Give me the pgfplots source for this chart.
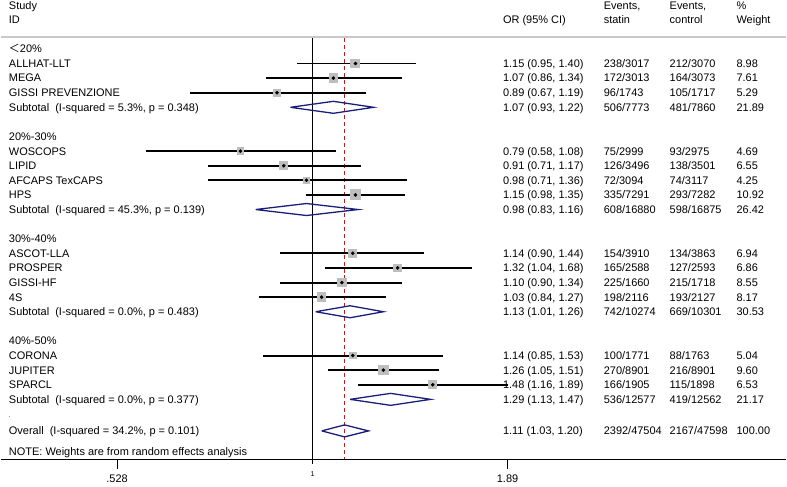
\documentclass[border=0pt]{standalone}
\usepackage{pgfplots}
\pgfplotsset{compat=1.18}
\usepackage{pgfplotstable}
\usepackage{fontspec}
\setmainfont{Liberation Sans}
\newfontfamily\cjk{Noto Sans CJK SC}
\definecolor{dnavy}{RGB}{26,30,120}
\definecolor{dred}{RGB}{178,34,34}
\definecolor{boxgray}{RGB}{190,190,190}
\definecolor{hdrgray}{RGB}{200,200,200}

% row  OR  lower  upper  weight
\pgfplotstableread{
r  est   lo    hi    w
1  1.15  0.95  1.40  8.98
2  1.07  0.86  1.34  7.61
3  0.89  0.67  1.19  5.29
7  0.79  0.58  1.08  4.69
8  0.91  0.71  1.17  6.55
9  0.98  0.71  1.36  4.25
10 1.15  0.98  1.35  10.92
14 1.14  0.90  1.44  6.94
15 1.32  1.04  1.68  6.86
16 1.10  0.90  1.34  8.55
17 1.03  0.84  1.27  8.17
21 1.14  0.85  1.53  5.04
22 1.26  1.05  1.51  9.60
23 1.48  1.16  1.89  6.53
}\studies

\newcommand{\trow}[6]{%
  \node[txt] at (8pt,{407.1pt-14.63pt*(#1)}) {#2};
  \node[txt] at (503pt,{407.1pt-14.63pt*(#1)}) {#3};
  \node[txt] at (604pt,{407.1pt-14.63pt*(#1)}) {#4};
  \node[txt] at (670pt,{407.1pt-14.63pt*(#1)}) {#5};
  \node[txt] at (737pt,{407.1pt-14.63pt*(#1)}) {#6};}
\newcommand{\trlab}[2]{\node[txt] at (8pt,{407.1pt-14.63pt*(#1)}) {#2};}

\begin{document}
\begin{tikzpicture}[txt/.style={anchor=base west, inner sep=0pt, font=\fontsize{11}{13}\selectfont}]
\begin{axis}[
  scale only axis, width=787pt, height=460pt,
  at={(0pt,0pt)}, anchor=south west,
  xmode=log, xmin=0.36111, xmax=4.6955,
  ymin=-28.093, ymax=3.349,
  axis y line=none, axis x line*=bottom,
  x axis line style={-, line width=0.9pt, black},
  xminorticks=false,
  xtick={0.528,1.89}, xticklabels={.528,1.89},
  extra x ticks={1}, extra x tick labels={1},
  extra x tick style={major tick length=4.5pt, xticklabel style={font=\fontsize{7}{8}\selectfont, yshift=-3pt}},
  xtick align=outside, major tick length=10pt,
  tick style={black, line width=1pt},
  xticklabel style={font=\fontsize{11}{13}\selectfont, yshift=-2pt},
  clip=false,
]
% null line and overall estimate line
\addplot[black, line width=0.9pt, forget plot] coordinates {(1,0.75) (1,-28.093)};
\addplot[dred, line width=0.8pt, dash pattern=on 4pt off 3pt, forget plot] coordinates {(1.11,0.75) (1.11,-28.093)};
% confidence intervals
\addplot[draw=none, mark=none, forget plot,
  error bars/.cd, x dir=both, x explicit, error mark=none,
  error bar style={black, line width=2pt}]
  table[x=est, y expr=-\thisrow{r},
        x error plus expr=\thisrow{hi}-\thisrow{est},
        x error minus expr=\thisrow{est}-\thisrow{lo}]{\studies};
% weight boxes
\addplot[scatter, only marks, mark=square*, forget plot,
  point meta=\thisrow{w},
  visualization depends on={1.5*sqrt(\thisrow{w}) \as \msz},
  mark options={draw=boxgray, fill=boxgray, line width=0pt},
  scatter/use mapped color={draw=boxgray, fill=boxgray},
  scatter/@pre marker code/.append style={/tikz/mark size=\msz}]
  table[x=est, y expr=-\thisrow{r}]{\studies};
% point estimates
\addplot[only marks, mark=*, mark size=1.6pt, mark options={draw=black, fill=black}, forget plot]
  table[x=est, y expr=-\thisrow{r}]{\studies};
% pooled diamonds
\addplot[dnavy, line width=1.3pt, line join=miter] coordinates {(0.93,-4) (1.07,-3.59) (1.22,-4) (1.07,-4.41) (0.93,-4)};
\addplot[dnavy, line width=1.3pt, line join=miter] coordinates {(0.83,-11) (0.98,-10.59) (1.16,-11) (0.98,-11.41) (0.83,-11)};
\addplot[dnavy, line width=1.3pt, line join=miter] coordinates {(1.01,-18) (1.13,-17.59) (1.26,-18) (1.13,-18.41) (1.01,-18)};
\addplot[dnavy, line width=1.3pt, line join=miter] coordinates {(1.13,-24) (1.29,-23.59) (1.47,-24) (1.29,-24.41) (1.13,-24)};
\addplot[dnavy, line width=1.3pt, line join=miter] coordinates {(1.03,-26.16) (1.11,-25.75) (1.20,-26.16) (1.11,-26.57) (1.03,-26.16)};
\end{axis}
% header
\draw[hdrgray, line width=1.5pt] (0pt,423pt) -- (787pt,423pt);
\node[txt] at (8pt,450.1pt) {Study};
\node[txt] at (8pt,436.1pt) {ID};
\node[txt] at (503pt,436.1pt) {OR (95\% CI)};
\node[txt] at (604pt,450.1pt) {Events,};
\node[txt] at (604pt,436.1pt) {statin};
\node[txt] at (670pt,450.1pt) {Events,};
\node[txt] at (670pt,436.1pt) {control};
\node[txt] at (737pt,450.1pt) {\%};
\node[txt] at (737pt,436.1pt) {Weight};
% rows
\trlab{0}{{\cjk ＜}20\%}
\trow{1}{ALLHAT-LLT}{1.15 (0.95, 1.40)}{238/3017}{212/3070}{8.98}
\trow{2}{MEGA}{1.07 (0.86, 1.34)}{172/3013}{164/3073}{7.61}
\trow{3}{GISSI PREVENZIONE}{0.89 (0.67, 1.19)}{96/1743}{105/1717}{5.29}
\trow{4}{Subtotal\ \ (I-squared = 5.3\%, p = 0.348)}{1.07 (0.93, 1.22)}{506/7773}{481/7860}{21.89}
\trlab{6}{20\%-30\%}
\trow{7}{WOSCOPS}{0.79 (0.58, 1.08)}{75/2999}{93/2975}{4.69}
\trow{8}{LIPID}{0.91 (0.71, 1.17)}{126/3496}{138/3501}{6.55}
\trow{9}{AFCAPS TexCAPS}{0.98 (0.71, 1.36)}{72/3094}{74/3117}{4.25}
\trow{10}{HPS}{1.15 (0.98, 1.35)}{335/7291}{293/7282}{10.92}
\trow{11}{Subtotal\ \ (I-squared = 45.3\%, p = 0.139)}{0.98 (0.83, 1.16)}{608/16880}{598/16875}{26.42}
\trlab{13}{30\%-40\%}
\trow{14}{ASCOT-LLA}{1.14 (0.90, 1.44)}{154/3910}{134/3863}{6.94}
\trow{15}{PROSPER}{1.32 (1.04, 1.68)}{165/2588}{127/2593}{6.86}
\trow{16}{GISSI-HF}{1.10 (0.90, 1.34)}{225/1660}{215/1718}{8.55}
\trow{17}{4S}{1.03 (0.84, 1.27)}{198/2116}{193/2127}{8.17}
\trow{18}{Subtotal\ \ (I-squared = 0.0\%, p = 0.483)}{1.13 (1.01, 1.26)}{742/10274}{669/10301}{30.53}
\trlab{20}{40\%-50\%}
\trow{21}{CORONA}{1.14 (0.85, 1.53)}{100/1771}{88/1763}{5.04}
\trow{22}{JUPITER}{1.26 (1.05, 1.51)}{270/8901}{216/8901}{9.60}
\trow{23}{SPARCL}{1.48 (1.16, 1.89)}{166/1905}{115/1898}{6.53}
\trow{24}{Subtotal\ \ (I-squared = 0.0\%, p = 0.377)}{1.29 (1.13, 1.47)}{536/12577}{419/12562}{21.17}
\trlab{25}{{\fontsize{6}{7}\selectfont .}}
\trow{26.16}{Overall\ \ (I-squared = 34.2\%, p = 0.101)}{1.11 (1.03, 1.20)}{2392/47504}{2167/47598}{100.00}
\trlab{27.55}{NOTE: Weights are from random effects analysis}
\path (0pt,-27pt) rectangle (787pt,460pt);
\end{tikzpicture}
\end{document}
